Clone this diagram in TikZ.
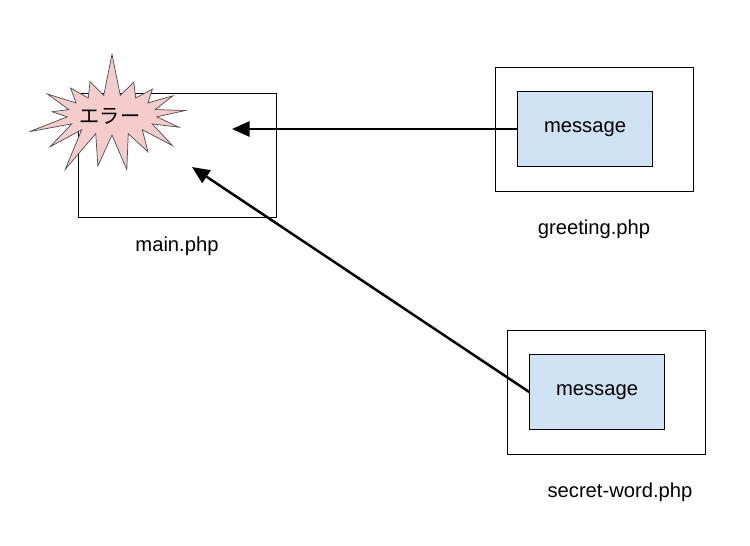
\documentclass[tikz,border=0pt]{standalone}
\usepackage{fontspec}
\setmainfont{Liberation Sans}
\newfontfamily\cjk{Noto Sans CJK JP}
\usetikzlibrary{arrows.meta,shapes.symbols}
\definecolor{burstpink}{HTML}{F4CCCC}
\definecolor{msgblue}{HTML}{CFE2F3}
\tikzset{
  every node/.style={font=\fontsize{11.5}{13}\selectfont},
  file/.style={draw, minimum width=3.96cm, minimum height=2.48cm, inner sep=0pt},
  msg/.style={draw, fill=msgblue, minimum width=2.7cm, minimum height=1.5cm, inner sep=0pt},
  link/.style={-{Triangle[length=3.5mm, width=3mm]}, line width=1.4pt}
}
\begin{document}
\begin{tikzpicture}[x=0.02cm, y=-0.02cm]
  \useasboundingbox (0,0) rectangle (750,545);
  % main.php
  \node[file] (main) at (177,155) {};
  \node (mainlbl) at (177,246) {main.php};
  \node[starburst, starburst points=17, starburst point height=0.9cm,
        random starburst=7, draw=black!70, fill=burstpink,
        minimum width=3.6cm, minimum height=2.6cm] (err) at (112,115) {};
  \node[font=\cjk\fontsize{11.5}{13}\selectfont] (errtxt) at (110,116) {エラー};
  \coordinate (in1) at (232,129);
  \coordinate (in2) at (192,167);

  % greeting.php
  \node[file] (greet) at (594,129) {};
  \node[msg] (gmsg) at (585,129) {message};
  \node (greetlbl) at (594,229) {greeting.php};

  % secret-word.php
  \node[file] (secret) at (606,392) {};
  \node[msg] (smsg) at (597,392) {message};
  \node (secretlbl) at (620,492) {secret-word.php};

  % Arrows
  \draw[link] (gmsg.west) -- (in1);
  \draw[link] (smsg.west) -- (in2);
\end{tikzpicture}
\end{document}
